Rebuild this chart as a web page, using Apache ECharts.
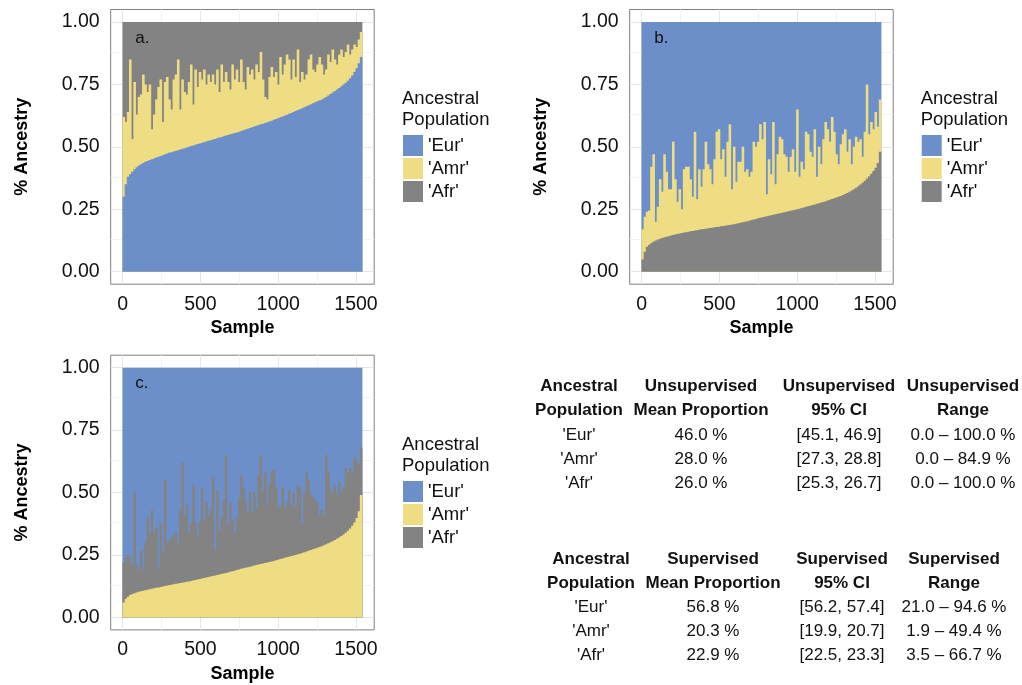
<!DOCTYPE html>
<html>
<head>
<meta charset="utf-8">
<script src="https://cdn.jsdelivr.net/npm/echarts@6/dist/echarts.min.js"></script>
<style>
  html, body { margin: 0; padding: 0; background: #fff; }
  #chart { width: 1022px; height: 685px; }
</style>
</head>
<body>
<div id="chart"></div>
<script>
// each drawn bar stands for 14 consecutive samples (1540 samples in total)
const binSize = 14;
const xTicks = [0, 500, 1000, 1500];
const xMinor = [250, 750, 1250];
const yTicks = [0, 0.25, 0.5, 0.75, 1];
const yMinor = [0.125, 0.375, 0.625, 0.875];
const popNames = ["'Eur'", "'Amr'", "'Afr'"];

// panel a: Eur share (bottom) and Eur+Amr (top of the yellow)
const aEur = [0.30,0.35,0.38,0.39,0.40,0.41,0.418,0.425,0.43,0.435,
  0.44,0.443,0.447,0.45,0.453,0.457,0.46,0.463,0.466,0.47,
  0.473,0.476,0.478,0.481,0.484,0.486,0.489,0.492,0.494,0.497,
  0.50,0.503,0.505,0.508,0.511,0.513,0.516,0.518,0.521,0.524,
  0.526,0.529,0.531,0.534,0.537,0.539,0.542,0.545,0.547,0.55,
  0.552,0.555,0.557,0.56,0.563,0.566,0.569,0.572,0.575,0.578,
  0.581,0.584,0.587,0.59,0.593,0.596,0.599,0.602,0.605,0.609,
  0.612,0.615,0.619,0.622,0.626,0.629,0.633,0.636,0.64,0.644,
  0.648,0.651,0.655,0.659,0.663,0.667,0.671,0.675,0.679,0.683,
  0.687,0.69,0.695,0.70,0.706,0.712,0.718,0.724,0.73,0.736,
  0.743,0.75,0.757,0.765,0.775,0.786,0.80,0.815,0.835,0.86];
const aTop = [0.62,0.60,0.64,0.85,0.53,0.76,0.63,0.70,0.71,0.79,
  0.75,0.72,0.75,0.57,0.63,0.69,0.74,0.77,0.60,0.76,
  0.78,0.69,0.65,0.77,0.79,0.85,0.65,0.77,0.72,0.71,
  0.76,0.83,0.67,0.81,0.74,0.80,0.77,0.81,0.75,0.79,
  0.76,0.79,0.75,0.81,0.72,0.83,0.76,0.80,0.76,0.73,
  0.83,0.77,0.81,0.76,0.85,0.76,0.73,0.82,0.79,0.81,
  0.77,0.83,0.80,0.88,0.77,0.70,0.69,0.78,0.82,0.78,
  0.80,0.75,0.86,0.79,0.83,0.87,0.85,0.77,0.85,0.78,
  0.89,0.76,0.80,0.77,0.79,0.85,0.87,0.81,0.80,0.83,
  0.86,0.83,0.79,0.81,0.87,0.84,0.89,0.85,0.83,0.87,
  0.89,0.86,0.88,0.91,0.87,0.89,0.91,0.90,0.93,0.96];

// panel b: Afr share (bottom) and Afr+Amr
const bAfr = [0.05,0.08,0.10,0.108,0.115,0.12,0.125,0.129,0.132,0.135,
  0.138,0.14,0.142,0.145,0.147,0.149,0.151,0.153,0.155,0.157,
  0.158,0.16,0.162,0.163,0.165,0.166,0.168,0.17,0.171,0.172,
  0.174,0.175,0.176,0.178,0.179,0.18,0.182,0.183,0.184,0.186,
  0.187,0.189,0.19,0.192,0.194,0.196,0.198,0.20,0.202,0.204,
  0.207,0.209,0.211,0.214,0.216,0.218,0.22,0.222,0.224,0.226,
  0.228,0.23,0.232,0.234,0.236,0.238,0.24,0.242,0.244,0.246,
  0.248,0.25,0.252,0.255,0.257,0.26,0.262,0.264,0.267,0.269,
  0.272,0.274,0.277,0.279,0.282,0.285,0.288,0.291,0.294,0.297,
  0.30,0.303,0.307,0.311,0.315,0.32,0.325,0.33,0.336,0.342,
  0.349,0.356,0.364,0.373,0.382,0.392,0.403,0.416,0.435,0.48];
const bTop = [0.17,0.22,0.24,0.245,0.42,0.47,0.20,0.26,0.37,0.32,
  0.47,0.40,0.33,0.33,0.52,0.37,0.28,0.33,0.25,0.41,
  0.42,0.42,0.37,0.30,0.56,0.29,0.41,0.34,0.41,0.52,
  0.43,0.41,0.35,0.45,0.56,0.57,0.45,0.49,0.38,0.52,
  0.59,0.33,0.50,0.36,0.44,0.44,0.50,0.40,0.41,0.38,
  0.40,0.52,0.50,0.52,0.59,0.53,0.60,0.31,0.45,0.39,
  0.60,0.35,0.47,0.54,0.53,0.47,0.46,0.40,0.46,0.49,
  0.40,0.65,0.38,0.44,0.41,0.56,0.55,0.48,0.46,0.57,
  0.38,0.50,0.43,0.53,0.60,0.57,0.52,0.62,0.56,0.47,
  0.43,0.51,0.55,0.57,0.48,0.53,0.43,0.50,0.54,0.52,
  0.53,0.46,0.56,0.75,0.55,0.60,0.57,0.64,0.58,0.69];

// panel c: Amr share (bottom) and Amr+Afr
const cAmr = [0.06,0.075,0.083,0.09,0.094,0.097,0.10,0.103,0.105,0.107,
  0.109,0.111,0.113,0.115,0.117,0.119,0.12,0.122,0.124,0.126,
  0.128,0.13,0.131,0.133,0.135,0.136,0.138,0.139,0.141,0.143,
  0.144,0.146,0.148,0.15,0.152,0.154,0.156,0.158,0.16,0.162,
  0.164,0.166,0.168,0.17,0.172,0.174,0.176,0.178,0.18,0.183,
  0.185,0.187,0.19,0.192,0.195,0.197,0.199,0.201,0.203,0.205,
  0.208,0.21,0.212,0.214,0.216,0.218,0.22,0.222,0.224,0.226,
  0.229,0.231,0.234,0.236,0.239,0.241,0.243,0.246,0.248,0.25,
  0.253,0.255,0.258,0.261,0.264,0.267,0.27,0.273,0.276,0.279,
  0.282,0.285,0.289,0.293,0.297,0.301,0.305,0.31,0.315,0.32,
  0.326,0.332,0.339,0.347,0.356,0.367,0.38,0.398,0.425,0.49];
const cTop = [0.22,0.24,0.25,0.24,0.21,0.50,0.21,0.19,0.27,0.20,
  0.30,0.40,0.34,0.43,0.34,0.36,0.20,0.38,0.26,0.55,
  0.30,0.31,0.32,0.33,0.34,0.30,0.43,0.62,0.41,0.45,
  0.34,0.38,0.53,0.38,0.33,0.38,0.52,0.39,0.46,0.41,
  0.43,0.56,0.27,0.51,0.35,0.40,0.47,0.65,0.37,0.46,
  0.39,0.34,0.40,0.48,0.57,0.52,0.46,0.42,0.50,0.42,
  0.50,0.44,0.57,0.65,0.51,0.58,0.45,0.54,0.58,0.59,
  0.52,0.45,0.44,0.52,0.44,0.46,0.51,0.45,0.50,0.44,
  0.53,0.52,0.37,0.50,0.58,0.55,0.49,0.48,0.47,0.46,
  0.41,0.43,0.41,0.65,0.58,0.51,0.50,0.53,0.49,0.54,
  0.50,0.52,0.60,0.58,0.60,0.58,0.64,0.63,0.61,0.68];

// summary tables
const unsupHeader = [['Ancestral', 'Population'], ['Unsupervised', 'Mean Proportion'], ['Unsupervised', '95% CI'], ['Unsupervised', 'Range']];
const unsupMean = ['46.0 %', '28.0 %', '26.0 %'];
const unsupCI = ['[45.1, 46.9]', '[27.3, 28.8]', '[25.3, 26.7]'];
const unsupRange = ['0.0 \u2013 100.0 %', '0.0 \u2013 84.9 %', '0.0 \u2013 100.0 %'];
const supHeader = [['Ancestral', 'Population'], ['Supervised', 'Mean Proportion'], ['Supervised', '95% CI'], ['Supervised', 'Range']];
const supMean = ['56.8 %', '20.3 %', '22.9 %'];
const supCI = ['[56.2, 57.4]', '[19.9, 20.7]', '[22.5, 23.3]'];
const supRange = ['21.0 \u2013 94.6 %', '1.9 \u2013 49.4 %', '3.5 \u2013 66.7 %'];

const FONT = "'Liberation Sans', Arial, Helvetica, sans-serif";
const popColors = { "'Eur'": '#6c8fc9', "'Amr'": '#eedd82', "'Afr'": '#838383' };
const samples = aEur.map((v, i) => i * binSize + binSize / 2);

const panels = [
  { tag: 'a.', left: 110.7, top: 9.5, order: ["'Eur'", "'Amr'", "'Afr'"], low: aEur, high: aTop, legX: 403, legY: 135 },
  { tag: 'b.', left: 629.7, top: 9.5, order: ["'Afr'", "'Amr'", "'Eur'"], low: bAfr, high: bTop, legX: 921.7, legY: 135 },
  { tag: 'c.', left: 110.7, top: 355.2, order: ["'Amr'", "'Afr'", "'Eur'"], low: cAmr, high: cTop, legX: 403, legY: 481 }
];
const PW = 263.5, PH = 274.7;
const X_MIN = -77, X_MAX = 1617;
// a bar a bit wider than one bin so that neighbours overlap and leave no seams
const barPx = binSize * PW / (X_MAX - X_MIN) + 0.4;

const grids = [], xAxes = [], yAxes = [], series = [], legends = [], graphics = [];

function barSeries(g, name, values) {
  return {
    type: 'bar', name: name, xAxisIndex: g, yAxisIndex: g,
    barWidth: barPx, barGap: '-100%', z: 2, silent: true,
    // large mode draws the whole layer as a single path: no seams between bins
    large: true, largeThreshold: 20,
    itemStyle: { color: popColors[name] },
    data: values.map((v, i) => [samples[i], v])
  };
}

panels.forEach((p, g) => {
  grids.push({ left: p.left, top: p.top, width: PW, height: PH, show: true, borderColor: '#7f7f7f', borderWidth: 1, backgroundColor: '#fff' });
  xAxes.push({
    type: 'value', gridIndex: g, min: X_MIN, max: X_MAX,
    name: 'Sample', nameLocation: 'middle', nameGap: 35,
    nameTextStyle: { fontFamily: FONT, fontSize: 18, fontWeight: 'bold', color: '#000' },
    axisLine: { show: false },
    axisTick: { show: true, customValues: xTicks, length: 5, lineStyle: { color: '#333' } },
    axisLabel: { customValues: xTicks, margin: 10, fontFamily: FONT, fontSize: 19.5, color: '#111',
      formatter: v => String(v) },
    splitLine: { show: false }
  });
  yAxes.push({
    type: 'value', gridIndex: g, min: -0.05, max: 1.05,
    name: '% Ancestry', nameLocation: 'middle', nameGap: 80,
    nameTextStyle: { fontFamily: FONT, fontSize: 18, fontWeight: 'bold', color: '#000' },
    axisLine: { show: false },
    axisTick: { show: true, customValues: yTicks, length: 5, lineStyle: { color: '#333' } },
    axisLabel: { customValues: yTicks, margin: 11, fontFamily: FONT, fontSize: 19.5, color: '#111',
      formatter: v => v.toFixed(2) },
    splitLine: { show: false }
  });

  // back to front: full column, then upper boundary, then the lower layer
  const [lowName, midName, upName] = p.order;
  series.push(barSeries(g, upName, p.low.map(() => 1)));
  series.push(barSeries(g, midName, p.high));
  series.push(barSeries(g, lowName, p.low));

  // panel grid lines (major + minor) under the bars
  series.push({
    type: 'line', xAxisIndex: g, yAxisIndex: g, data: [], silent: true, z: 1,
    markLine: {
      z: 1, silent: true, symbol: 'none', animation: false, label: { show: false },
      emphasis: { disabled: true },
      data: [].concat(
        xTicks.map(v => ({ xAxis: v, lineStyle: { color: '#e6e6e6', width: 1, type: 'solid' } })),
        xMinor.map(v => ({ xAxis: v, lineStyle: { color: '#f3f3f3', width: 1, type: 'solid' } })),
        yTicks.map(v => ({ yAxis: v, lineStyle: { color: '#e6e6e6', width: 1, type: 'solid' } })),
        yMinor.map(v => ({ yAxis: v, lineStyle: { color: '#f3f3f3', width: 1, type: 'solid' } }))
      )
    }
  });

  legends.push({
    left: p.legX, top: p.legY, padding: 0, orient: 'vertical', icon: 'rect',
    itemWidth: 20, itemHeight: 21, itemGap: 2, selectedMode: false,
    textStyle: { fontFamily: FONT, fontSize: 18.5, color: '#111' },
    data: popNames
  });

  graphics.push({
    type: 'text', left: p.left + 24.5, top: p.top + 20, z: 10,
    style: { text: p.tag, fontFamily: FONT, fontSize: 17, fill: '#111' }
  });
  graphics.push({
    type: 'text', left: p.legX - 1, top: p.legY - 47, z: 10,
    style: { text: 'Ancestral\nPopulation', fontFamily: FONT, fontSize: 18.5, lineHeight: 21, fill: '#111' }
  });
});

function addTable(header, mean, ci, range, colX, rowY) {
  header.forEach((h, c) => {
    h.forEach((line, r) => {
      graphics.push({ type: 'text', x: colX[c], y: rowY[r], z: 10,
        style: { text: line, fontFamily: FONT, fontSize: 17, fontWeight: 'bold', fill: '#111', align: 'center', verticalAlign: 'middle' } });
    });
  });
  const cols = [popNames, mean, ci, range];
  cols.forEach((col, c) => {
    col.forEach((txt, r) => {
      graphics.push({ type: 'text', x: colX[c], y: rowY[r + 2], z: 10,
        style: { text: txt, fontFamily: FONT, fontSize: 17, fill: '#111', align: 'center', verticalAlign: 'middle' } });
    });
  });
}
addTable(unsupHeader, unsupMean, unsupCI, unsupRange, [579, 701, 839, 963], [386, 410, 435, 459, 483]);
addTable(supHeader, supMean, supCI, supRange, [591, 713, 842, 954], [559, 583, 607, 631, 655]);

const chart = echarts.init(document.getElementById('chart'));
chart.setOption({
  animation: false,
  backgroundColor: '#fff',
  grid: grids,
  xAxis: xAxes,
  yAxis: yAxes,
  legend: legends,
  series: series,
  graphic: graphics
});
</script>
</body>
</html>
